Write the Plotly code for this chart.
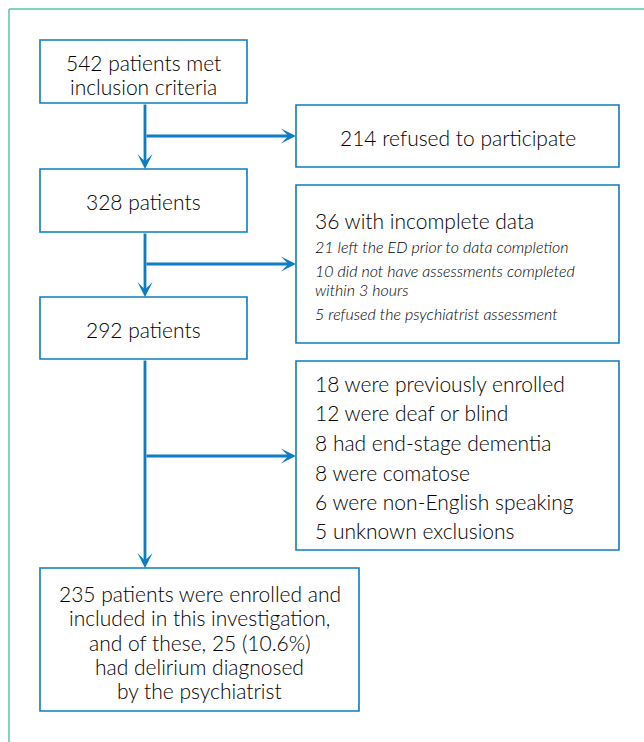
import plotly.graph_objects as go

# ---- data (from the reference flowchart) ----
stage_counts = [542, 328, 292, 235]
stage_lines = [
    ["542 patients met", "inclusion criteria"],
    ["328 patients"],
    ["292 patients"],
    ["235 patients were enrolled and", "included in this investigation,",
     "and of these, 25 (10.6%)", "had delirium diagnosed", "by the psychiatrist"],
]
refused_lines = ["214 refused to participate"]
incomplete_header = "36 with incomplete data"
incomplete_reasons = [
    ["21 left the ED prior to data completion"],
    ["10 did not have assessments completed", "within 3 hours"],
    ["5 refused the psychiatrist assessment"],
]
exclusion_reasons = [
    "18 were previously enrolled",
    "12 were deaf or blind",
    "8 had end-stage dementia",
    "8 were comatose",
    "6 were non-English speaking",
    "5 unknown exclusions",
]

# ---- layout geometry ----
W, H = 644, 742
BLUE = "#0b7dc1"
TEXT = "#000000"
FRAME = "#80d4bf"
FONT = "Lato"

main_boxes = [(40, 40, 247, 103), (40, 169, 247, 232), (40, 297, 247, 359), (40, 568, 359, 711)]
side_boxes = [(296, 105, 619, 167), (296, 185, 619, 343), (296, 361, 619, 550)]
trunk_x = 145
branch_y = [136, 264, 456]

fig = go.Figure()
shapes = []
annotations = []

# outer frame (top and left rules)
shapes.append(dict(type="line", x0=9, y0=9, x1=W, y1=9, line=dict(color=FRAME, width=2)))
shapes.append(dict(type="line", x0=9, y0=9, x1=9, y1=H, line=dict(color=FRAME, width=2)))

for (x0, y0, x1, y1) in main_boxes + side_boxes:
    shapes.append(dict(type="rect", x0=x0, y0=y0, x1=x1, y1=y1,
                       line=dict(color=BLUE, width=1.6), fillcolor="white"))


def arrow(x0, y0, x1, y1):
    annotations.append(dict(x=x1, y=y1, ax=x0, ay=y0, xref="x", yref="y",
                            axref="x", ayref="y", showarrow=True, text="",
                            arrowhead=3, arrowsize=0.9, arrowwidth=2.8,
                            arrowcolor=BLUE, standoff=0, startstandoff=0))


for i in range(3):
    top = main_boxes[i][3]
    nxt = main_boxes[i + 1][1]
    arrow(trunk_x, top, trunk_x, nxt)
    arrow(trunk_x, branch_y[i], side_boxes[i][0], branch_y[i])


def text(x, y, s, size=21, anchor="center", italic=False):
    annotations.append(dict(x=x, y=y, xref="x", yref="y", text=s, showarrow=False,
                            xanchor=anchor, yanchor="middle",
                            font=dict(family=FONT, size=size, color=TEXT, weight=300,
                                      style="italic" if italic else "normal")))


# main box texts
main_text_y = [[62, 86], [201], [329], [593, 617, 642, 666, 690]]
for lines, ys, box in zip(stage_lines, main_text_y, main_boxes):
    cx = (box[0] + box[2]) / 2
    for s, y in zip(lines, ys):
        text(cx, y, s)

# refused box
text((side_boxes[0][0] + side_boxes[0][2]) / 2, 137, refused_lines[0])

# incomplete box
tx = 313
text(tx, 220, incomplete_header, anchor="left")
reason_y = [[246], [270, 289], [313]]
for lines, ys in zip(incomplete_reasons, reason_y):
    for s, y in zip(lines, ys):
        text(tx, y, s, size=16, anchor="left", italic=True)

# exclusions box
excl_y = [383, 412, 442, 472, 501, 530]
for s, y in zip(exclusion_reasons, excl_y):
    text(tx, y, s, anchor="left")

fig.update_layout(
    width=W, height=H, margin=dict(l=0, r=0, t=0, b=0),
    paper_bgcolor="white", plot_bgcolor="white",
    xaxis=dict(range=[0, W], visible=False, fixedrange=True),
    yaxis=dict(range=[H, 0], visible=False, fixedrange=True),
    shapes=shapes, annotations=annotations, showlegend=False,
)
fig.write_html("out.html", config={"displayModeBar": False},
               post_script="document.body.style.margin='0';document.body.style.overflow='hidden';")
